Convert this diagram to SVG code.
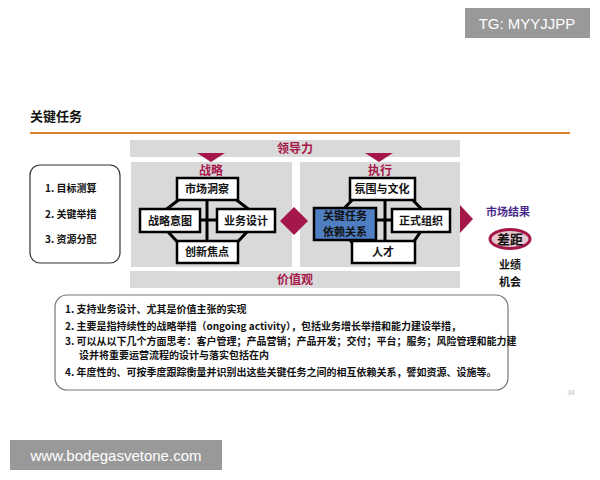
<svg xmlns="http://www.w3.org/2000/svg" width="600" height="480" viewBox="0 0 600 480">
<style>
text{font-family:"Noto Sans CJK SC","Liberation Sans",sans-serif;font-weight:bold}
.n{fill:#fff;stroke:#000;stroke-width:2.5}
.t{font-size:11px;text-anchor:middle;fill:#111}
.r{fill:#a5174a}
.red{fill:#a5174a;font-size:12px;text-anchor:middle}
.l{font-size:10px;fill:#111}
</style>
<rect width="600" height="480" fill="#fff"/>
<rect x="465" y="8" width="125" height="30" fill="#999"/>
<text x="527" y="29" font-size="15" fill="#fff" text-anchor="middle" style="font-family:'Liberation Sans',sans-serif;font-weight:normal">TG: MYYJJPP</text>
<text x="30" y="121" font-size="13" fill="#111">关键任务</text>
<rect x="30" y="132" width="540" height="2" fill="#d9822b"/>
<rect id="left-list" x="30" y="165" width="90" height="98" rx="10" fill="#fff" stroke="#333" stroke-width="1.2"/>
<text class="l" x="45" y="192">1.  目标测算</text>
<text class="l" x="45" y="218">2.  关键举措</text>
<text class="l" x="45" y="243">3.  资源分配</text>
<g id="leadership"><rect x="130" y="140" width="330" height="17" fill="#d9d9d9"/><text class="red" x="295" y="153">领导力</text></g>
<g id="values"><rect x="130" y="271" width="330" height="17" fill="#d9d9d9"/><text class="red" x="295" y="284">价值观</text></g>
<rect x="131" y="162" width="161" height="105" fill="#d9d9d9"/>
<rect x="300" y="162" width="160" height="105" fill="#d9d9d9"/>
<polygon class="r" points="197,153 225,153 211,162"/>
<polygon class="r" points="365,153 393,153 379,162"/>
<text class="red" x="211" y="175">战略</text>
<text class="red" x="380" y="175">执行</text>
<g id="connectors" stroke="#000" stroke-width="3" fill="none">
<polygon points="185,195 230,195 260,218 230,250 185,250 155,218"/>
<line x1="207" y1="195" x2="207" y2="245"/><line x1="180" y1="220" x2="235" y2="220"/>
<polygon points="357,195 408,195 430,218 408,250 357,250 335,218"/>
<line x1="385" y1="195" x2="385" y2="245"/><line x1="360" y1="220" x2="410" y2="220"/>
</g>
<g id="n1"><rect class="n" x="177" y="178" width="61" height="22"/><text class="t" x="207" y="193">市场洞察</text></g>
<g id="n2"><rect class="n" x="140" y="209" width="60" height="23"/><text class="t" x="170" y="225">战略意图</text></g>
<g id="n3"><rect class="n" x="217" y="209" width="58" height="23"/><text class="t" x="246" y="225">业务设计</text></g>
<g id="n4"><rect class="n" x="177" y="241" width="61" height="22"/><text class="t" x="207" y="256">创新焦点</text></g>
<polygon class="r" points="294,207 308,221 294,235 280,221"/>
<g id="n5"><rect class="n" x="350" y="178" width="65" height="22"/><text class="t" x="382" y="193">氛围与文化</text></g>
<g id="n6"><rect x="314" y="208" width="62" height="32" fill="#4f7fc2" stroke="#000" stroke-width="2.5"/><text class="t" x="345" y="220" font-size="10">关键任务</text><text class="t" x="345" y="235.5" font-size="10">依赖关系</text></g>
<g id="n7"><rect class="n" x="392" y="209" width="58" height="23"/><text class="t" x="421" y="225">正式组织</text></g>
<g id="n8"><rect class="n" x="352" y="241" width="63" height="22"/><text class="t" x="383" y="256">人才</text></g>
<polygon class="r" points="460,205 473,219 460,233"/>
<text x="508" y="216" font-size="11" fill="#4b2a8c" text-anchor="middle">市场结果</text>
<ellipse cx="510" cy="239" rx="20" ry="9.5" fill="#e7c6cf" stroke="#a5174a" stroke-width="3"/>
<text x="510" y="244" font-size="13" text-anchor="middle" fill="#111">差距</text>
<text x="510" y="269" font-size="11" text-anchor="middle" fill="#111">业绩</text>
<text x="510" y="286" font-size="11" text-anchor="middle" fill="#111">机会</text>
<rect x="55" y="295" width="453" height="95" rx="12" fill="#fff" stroke="#777" stroke-width="1.2"/>
<text class="l" x="65" y="313" font-size="9">1.  支持业务设计、尤其是价值主张的实现</text>
<text class="l" x="65" y="330" font-size="9">2.  主要是指持续性的战略举措（ongoing activity），包括业务增长举措和能力建设举措，</text>
<text class="l" x="65" y="345" font-size="9">3.  可以从以下几个方面思考：客户管理；产品营销；产品开发；交付；平台；服务；风险管理和能力建</text>
<text class="l" x="79" y="359" font-size="9">设并将重要运营流程的设计与落实包括在内</text>
<text class="l" x="65" y="376" font-size="9">4.  年度性的、可按季度跟踪衡量并识别出这些关键任务之间的相互依赖关系，譬如资源、设施等。</text>
<text x="568" y="395" font-size="6" fill="#bbb" style="font-weight:normal">84</text>
<rect x="10" y="440" width="212" height="30" fill="#999"/>
<text x="116" y="461" font-size="15" fill="#fff" text-anchor="middle" style="font-family:'Liberation Sans',sans-serif;font-weight:normal">www.bodegasvetone.com</text>
</svg>
